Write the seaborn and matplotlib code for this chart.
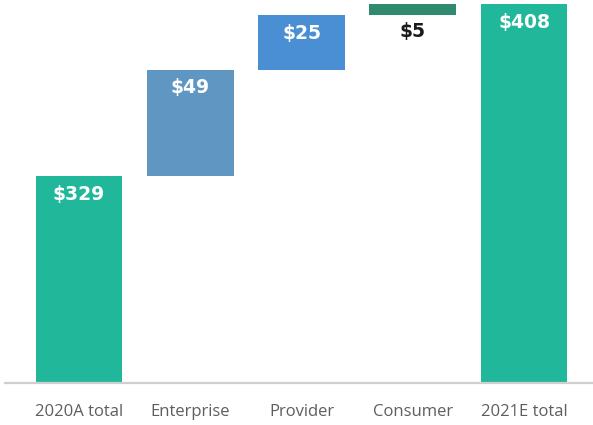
import matplotlib
matplotlib.use("Agg")
import matplotlib.pyplot as plt
import seaborn as sns
import pandas as pd

# Waterfall: revenue bridge from 2020A to 2021E
stages = ["2020A total", "Enterprise", "Provider", "Consumer", "2021E total"]
changes = [329, 49, 25, 5, 408]
is_total = [True, False, False, False, True]
labels = ["$329", "$49", "$25", "$5", "$408"]
bar_colors = ["#21b79a", "#5f96c2", "#4a8ed3", "#2f8a70", "#21b79a"]

# running base for the floating bars
bases = []
running = 0
for val, tot in zip(changes, is_total):
    if tot:
        bases.append(0)
        running = val
    else:
        bases.append(running)
        running += val

df = pd.DataFrame({"stage": stages, "change": changes, "base": bases})

sns.set_style("white")
plt.rcParams["font.family"] = ["Open Sans", "DejaVu Sans"]

fig = plt.figure(figsize=(5.93, 4.25), dpi=100)
ax = fig.add_axes([5 / 593, 42 / 425, 588 / 593, 383 / 425])

sns.barplot(data=df, x="stage", y="change", bottom=df["base"], color=bar_colors[0],
            errorbar=None, width=0.78, saturation=1, ax=ax)

for patch, col in zip(ax.patches, bar_colors):
    patch.set_facecolor(col)
    patch.set_edgecolor("none")

ax.set_ylim(234, 410)
ax.set_xlim(-0.665, 4.62)

# value labels
for i, (val, base, lab) in enumerate(zip(changes, bases, labels)):
    top = base + val
    if val >= 20:
        ax.annotate(lab, (i, top), xytext=(0, -18), textcoords="offset pixels",
                    ha="center", va="center", color="white", fontsize=13.5,
                    fontweight="bold", family="DejaVu Sans")
    else:
        ax.annotate(lab, (i, base), xytext=(0, -16), textcoords="offset pixels",
                    ha="center", va="center", color="#1a1a1a", fontsize=13.5,
                    fontweight="bold", family="DejaVu Sans")

ax.set_xlabel("")
ax.set_ylabel("")
ax.set_yticks([])
ax.tick_params(axis="x", length=0, pad=15, labelsize=12, labelcolor="#5e5e5e")
for side in ["top", "left", "right"]:
    ax.spines[side].set_visible(False)
ax.spines["bottom"].set_color("#cfcfcf")
ax.spines["bottom"].set_linewidth(1.6)

fig.savefig("out.png", dpi=100, facecolor="white")
